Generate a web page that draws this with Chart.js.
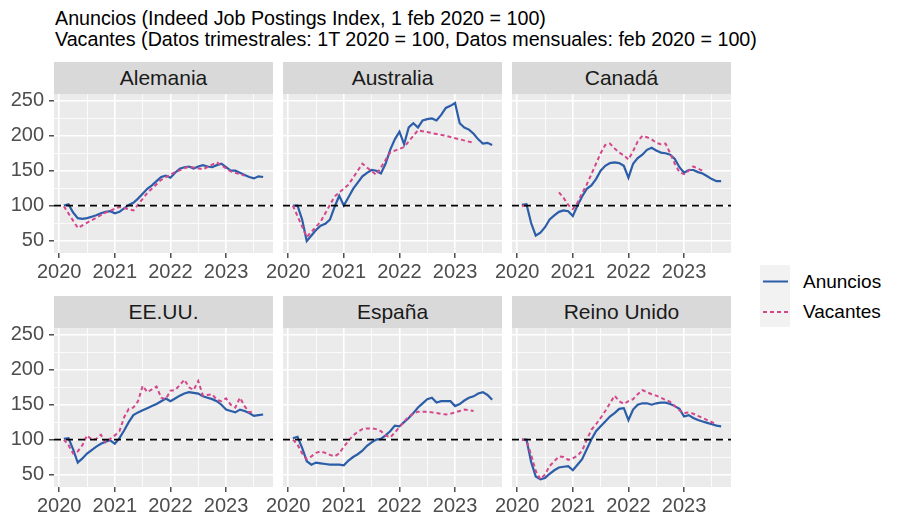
<!DOCTYPE html>
<html>
<head>
<meta charset="utf-8">
<script src="https://cdn.jsdelivr.net/npm/chart.js@4.4.0/dist/chart.umd.min.js"></script>
<style>
  body { margin: 0; background: #fff; font-family: "Liberation Sans", Arial, sans-serif; }
  #wrap { position: relative; width: 901px; height: 527px; overflow: hidden; }
  .titulo { position: absolute; left: 55px; font-size: 19.7px; line-height: 20px; color: #000; white-space: nowrap; }
  .strip { position: absolute; background: #D9D9D9; color: #1A1A1A; font-size: 21px; text-align: center; }
  .panel { position: absolute; }
  .key { position: absolute; left: 760px; width: 30px; height: 31px; background: #F2F2F2; }
  .keytxt { position: absolute; left: 803px; font-size: 19px; line-height: 20px; color: #000; }
</style>
</head>
<body>
<div id="wrap">
  <div class="titulo" style="top:8px">Anuncios (Indeed Job Postings Index, 1 feb 2020 = 100)</div>
  <div class="titulo" style="top:29px">Vacantes (Datos trimestrales: 1T 2020 = 100, Datos mensuales: feb 2020 = 100)</div>

  <div class="key" style="top:265px"><svg width="30" height="31"><line x1="3" y1="16.5" x2="28" y2="16.5" stroke="#2C5DA9" stroke-width="2"/></svg></div>
  <div class="key" style="top:296px"><svg width="30" height="31"><line x1="3" y1="16" x2="28" y2="16" stroke="#D4478A" stroke-width="2" stroke-dasharray="4 3"/></svg></div>
  <div class="keytxt" style="top:272px">Anuncios</div>
  <div class="keytxt" style="top:302px">Vacantes</div>
</div>

<script>
// meses: feb 2020 ... sep 2023, como año decimal
const fechas = [];
for (let a = 2020, m = 2; !(a === 2023 && m > 9); ) {
    fechas.push(a + (m - 1) / 12);
    m++;
    if (m > 12) { m = 1; a++; }
}

const paises = ['Alemania', 'Australia', 'Canadá', 'EE.UU.', 'España', 'Reino Unido'];
const lineaReferencia = 100;

const anunciosAlemania = [100,102,90,82,81,82,84,86,89,91,92,89, 91,96,101,104,110,117,124,129,135,141,143,140,
    147,153,155,156,153,156,158,156,155,158,160,155, 150,150,147,144,141,139,142,141];
const vacantesAlemania = [99,null,null,68,null,null,79,null,null,90,null,null, 98,null,null,93,null,null,118,null,null,137,null,null,
    148,null,null,156,null,null,152,null,null,162,null,null, 149,null,null,143,null,null,null,null];

const anunciosAustralia = [100,100,80,49,57,65,71,74,80,98,114,100, 112,124,133,142,147,151,150,146,160,180,195,206,
    188,212,218,212,222,224,225,222,230,240,243,247, 218,212,209,203,195,189,190,187];
const vacantesAustralia = [100,null,null,55,null,null,77,null,null,113,null,null, 130,null,null,160,null,null,144,null,null,176,null,null,
    184,null,null,208,null,null,204,null,null,200,null,null, 195,null,null,190,null,null,null,null];

const anunciosCanada = [101,102,75,57,61,69,80,86,91,93,92,85, 100,113,124,129,138,150,157,161,162,161,157,140,
    160,168,173,180,183,179,176,175,173,167,155,147, 151,151,148,146,142,138,135,135];
const vacantesCanada = [99,101,null,null,null,null,null,null,119,111,101,95, 104,118,130,145,160,175,187,189,182,176,172,166,
    178,192,200,198,195,190,188,189,175,160,148,145, 150,156,153,150,null,null,null,null];

const anunciosEEUU = [101,102,86,67,73,80,85,90,94,97,99,94, 102,113,125,135,139,142,145,148,151,155,159,155,
    159,163,166,168,167,166,162,160,158,155,150,143, 141,139,143,141,138,134,135,136];
const vacantesEEUU = [100,92,80,83,92,106,100,101,107,96,101,106, 112,132,144,146,155,177,168,172,176,160,158,170,
    171,178,186,175,171,184,163,164,165,157,155,159, 150,146,160,148,139,141,null,null];

const anunciosEspana = [102,104,88,69,64,67,66,65,64,64,64,63, 70,75,79,84,91,96,100,101,106,112,120,119,
    125,131,138,146,152,158,160,153,155,155,155,148, 151,156,160,162,166,168,164,157];
const vacantesEspana = [100,93,80,72,76,81,83,81,78,76,80,90, 98,106,111,115,116,116,115,112,106,103,110,118,
    126,133,137,140,140,140,139,138,137,136,137,139, 141,143,142,141,null,null,null,null];

const anunciosReinoUnido = [100,100,68,47,43,45,51,56,60,61,62,56, 64,72,86,100,112,119,126,133,138,144,145,128,
    143,150,152,152,150,152,153,153,151,148,144,133, 135,131,128,126,124,122,120,119];
const vacantesReinoUnido = [100,99,78,55,43,50,62,69,76,75,71,73, 77,84,100,114,122,131,141,152,163,155,151,155,
    158,165,171,168,165,163,160,157,154,148,142,138, 139,137,134,131,128,125,122,null];

const ticksX = [2020, 2020.5, 2021, 2021.5, 2022, 2022.5, 2023, 2023.5];
const ticksY = [50, 75, 100, 125, 150, 175, 200, 225, 250];

const anuncios = [anunciosAlemania, anunciosAustralia, anunciosCanada, anunciosEEUU, anunciosEspana, anunciosReinoUnido];
const vacantes = [vacantesAlemania, vacantesAustralia, vacantesCanada, vacantesEEUU, vacantesEspana, vacantesReinoUnido];

// layout
const xMin = 2019.906, xMax = 2023.844;
const yMin = 32, yMax = 260;
const colLeft = [54, 283, 512];
const rowTop = [94, 328];
const plotW = 219, plotH = 159, stripH = 32;
const azul = '#2C5DA9', rosa = '#D4478A';

Chart.defaults.font.family = "'Liberation Sans', Arial, sans-serif";

const fondoPanel = {
    id: 'fondoPanel',
    beforeDraw(chart) {
        const a = chart.chartArea, ctx = chart.ctx;
        ctx.save();
        ctx.fillStyle = '#EBEBEB';
        ctx.fillRect(a.left, a.top, a.right - a.left, a.bottom - a.top);
        ctx.restore();
    }
};

// puntos sin dato se quitan; los huecos largos (Canadá 2020) los corta spanGaps
function serie(valores) {
    return fechas.map((x, k) => ({ x: x, y: valores[k] })).filter(p => p.y !== null);
}

const wrap = document.getElementById('wrap');

paises.forEach((pais, i) => {
    const r = Math.floor(i / 3), c = i % 3;
    const yW = c === 0 ? 54 : 30;
    const padTop = 10;

    const strip = document.createElement('div');
    strip.className = 'strip';
    strip.style.left = colLeft[c] + 'px';
    strip.style.top = (rowTop[r] - stripH) + 'px';
    strip.style.width = plotW + 'px';
    strip.style.height = stripH + 'px';
    strip.style.lineHeight = stripH + 'px';
    strip.textContent = pais;

    const box = document.createElement('div');
    box.className = 'panel';
    box.style.left = (colLeft[c] - yW) + 'px';
    box.style.top = (rowTop[r] - padTop) + 'px';
    const cv = document.createElement('canvas');
    cv.width = plotW + yW;
    cv.height = padTop + plotH + 34;
    cv.style.width = cv.width + 'px';
    cv.style.height = cv.height + 'px';
    box.appendChild(cv);
    wrap.appendChild(box);
    wrap.appendChild(strip);

    new Chart(cv, {
        type: 'line',
        data: {
            datasets: [
                {
                    label: 'ref',
                    data: [{ x: xMin, y: lineaReferencia }, { x: xMax, y: lineaReferencia }],
                    borderColor: '#000000', borderWidth: 1.8, borderDash: [7, 5],
                    pointRadius: 0
                },
                {
                    label: 'Vacantes',
                    data: serie(vacantes[i]),
                    borderColor: rosa, borderWidth: 2, borderDash: [4, 3],
                    pointRadius: 0, spanGaps: 0.3
                },
                {
                    label: 'Anuncios',
                    data: serie(anuncios[i]),
                    borderColor: azul, borderWidth: 2.2,
                    pointRadius: 0
                }
            ]
        },
        options: {
            responsive: false,
            animation: false,
            layout: { padding: { top: padTop, left: 0, right: 0, bottom: 0 } },
            plugins: { legend: { display: false }, tooltip: { enabled: false } },
            scales: {
                x: {
                    type: 'linear', min: xMin, max: xMax,
                    afterBuildTicks: s => { s.ticks = ticksX.map(v => ({ value: v })); },
                    afterFit: s => { s.height = 34; s.paddingLeft = 0; s.paddingRight = 0; },
                    border: { display: false },
                    grid: {
                        color: '#FFFFFF',
                        lineWidth: ctx => (ctx.tick && ctx.tick.value % 1 === 0) ? 1.6 : 0.8,
                        tickColor: ctx => (ctx.tick && ctx.tick.value % 1 === 0) ? '#333333' : 'rgba(0,0,0,0)',
                        tickWidth: 1.3,
                        tickLength: 5
                    },
                    ticks: {
                        autoSkip: false, maxRotation: 0,
                        color: '#4D4D4D', font: { size: 20 }, padding: 2,
                        callback: v => (v % 1 === 0 ? String(v) : '')
                    }
                },
                y: {
                    type: 'linear', min: yMin, max: yMax,
                    afterBuildTicks: s => { s.ticks = ticksY.map(v => ({ value: v })); },
                    afterFit: s => { s.width = yW; s.paddingTop = 0; s.paddingBottom = 0; },
                    border: { display: false },
                    grid: {
                        color: '#FFFFFF',
                        lineWidth: ctx => (ctx.tick && ctx.tick.value % 50 === 0) ? 1.6 : 0.8,
                        tickColor: ctx => (ctx.tick && ctx.tick.value % 50 === 0) ? '#333333' : 'rgba(0,0,0,0)',
                        tickWidth: 1.3,
                        tickLength: 5,
                        drawTicks: c === 0
                    },
                    ticks: {
                        display: c === 0,
                        autoSkip: false,
                        color: '#4D4D4D', font: { size: 20 }, padding: 5,
                        callback: v => (v % 50 === 0 ? String(v) : '')
                    }
                }
            }
        },
        plugins: [fondoPanel]
    });
});
</script>
</body>
</html>
